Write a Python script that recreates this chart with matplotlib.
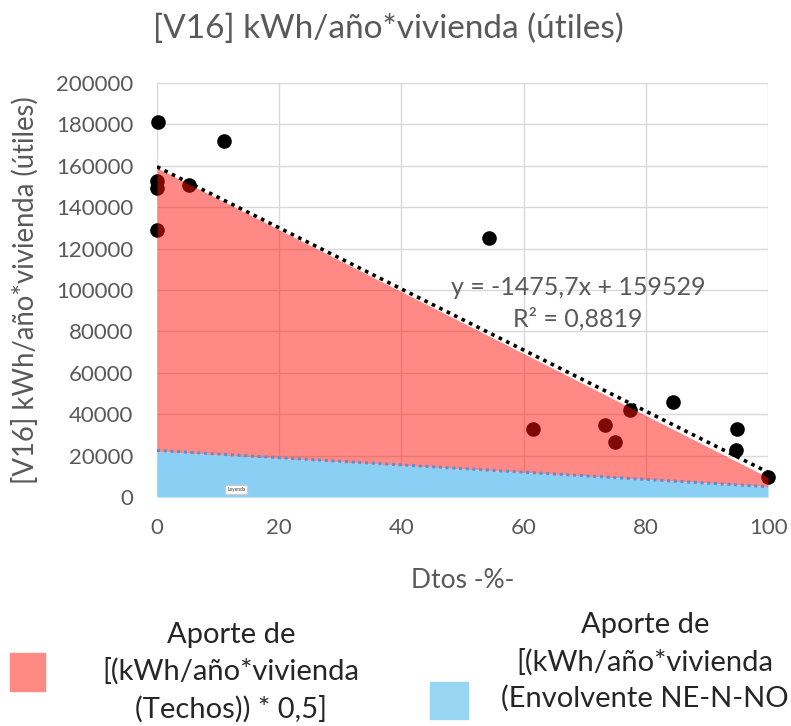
import matplotlib.pyplot as plt
from matplotlib.patches import Rectangle

plt.rcParams['font.family'] = ['Lato', 'DejaVu Sans']

# scatter points (Dtos %, kWh/año*vivienda)
pts_x = [0.2, 10.9, 0.0, 0.0, 5.3, 0.0, 54.4, 61.5, 73.3, 74.9, 77.4, 84.4, 94.9, 94.8, 100.0]
pts_y = [181000, 172000, 152700, 149400, 150600, 129200, 124900, 32800, 35000, 26700,
         42000, 45700, 32800, 22600, 9700]

# stacked areas
area_x = [0, 100]
techos = [159000, 9500]
envolvente = [22000, 5000]

# trendlines
slope, intercept = -1475.7, 159529
blue_trend = [22500, 5000]

fig = plt.figure(figsize=(7.91, 7.26), dpi=100)
ax = fig.add_axes([0.1985, 0.3154, 0.7725, 0.5703])

ax.set_axisbelow(True)
ax.grid(True, color='#D9D9D9', linewidth=1)
for s in ax.spines.values():
    s.set_visible(False)

ax.scatter(pts_x, pts_y, s=90, color='black', zorder=1, clip_on=False)
ax.fill_between(area_x, envolvente, techos, color=(1.0, 0.08, 0.04), alpha=0.5,
                linewidth=0, zorder=2)
ax.fill_between(area_x, 0, envolvente, color='#8AD0F4', linewidth=0, zorder=3)

ax.plot(area_x, blue_trend, color='#5B8FD8', linestyle=(0, (1, 1.2)), linewidth=2.2, zorder=4)
tx = [0, 100]
ax.plot(tx, [intercept + slope * v for v in tx], color='black',
        linestyle=(0, (1, 1.3)), linewidth=2.6, zorder=5)

ax.text(68.9, 101000, 'y = -1475,7x + 159529', ha='center', va='center',
        fontsize=18, color='#595959', zorder=6)
ax.text(68.9, 86000, 'R² = 0,8819', ha='center', va='center',
        fontsize=18, color='#595959', zorder=6)
ax.text(11.5, 3500, 'Leyenda', fontsize=3.5, color='#333333', va='center', zorder=6,
        bbox=dict(facecolor='white', edgecolor='#CCCCCC', pad=1.5))

ax.set_xlim(0, 100)
ax.set_ylim(0, 200000)
ax.set_xticks(range(0, 101, 20))
ax.set_yticks(range(0, 200001, 20000))
ax.tick_params(length=0, labelsize=16, colors='#595959')
ax.tick_params(axis='x', pad=15)
ax.tick_params(axis='y', pad=17)

ax.set_xlabel('Dtos -%-', fontsize=19, color='#595959', labelpad=22)
ax.set_ylabel('[V16] kWh/año*vivienda (útiles)', fontsize=19.8, color='#595959')
ax.yaxis.set_label_coords(-0.194, 0.5)
fig.text(0.4905, 1 - 29 / 726, '[V16] kWh/año*vivienda (útiles)', ha='center', va='center',
         fontsize=24, color='#595959')

# legend
fig.patches.append(Rectangle((10 / 791, 1 - 691 / 726), 35 / 791, 38 / 726,
                             transform=fig.transFigure, color='#FF8A84'))
fig.patches.append(Rectangle((430 / 791, 1 - 719 / 726), 38 / 791, 37 / 726,
                             transform=fig.transFigure, color='#97D5F2'))
fig.text(231 / 791, 1 - 672 / 726, 'Aporte de\n[(kWh/año*vivienda\n(Techos)) * 0,5]',
         ha='center', va='center', multialignment='center', fontsize=21,
         color='#262626', linespacing=1.45)
fig.text(789 / 791, 1 - 662 / 726, 'Aporte de\n[(kWh/año*vivienda\n(Envolvente NE-N-NO',
         ha='right', va='center', multialignment='center', fontsize=21,
         color='#262626', linespacing=1.45)

fig.savefig('out.png', dpi=100)
